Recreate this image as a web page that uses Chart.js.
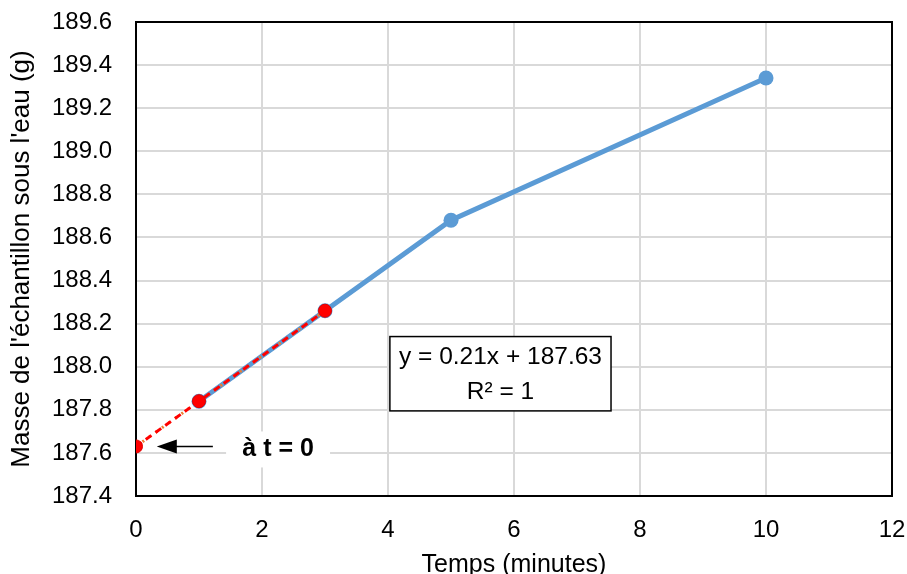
<!DOCTYPE html>
<html>
<head>
<meta charset="utf-8">
<script src="https://cdn.jsdelivr.net/npm/chart.js@4"></script>
<style>
  html, body { margin: 0; padding: 0; background: #fff; }
</style>
</head>
<body>
<canvas id="chart" width="907" height="574"></canvas>
<script>
// data
var mainX = [1, 3, 5, 10];
var mainY = [187.84, 188.26, 188.68, 189.34];

var fitX = [0, 1, 3];
var fitY = [187.63, 187.84, 188.26];

// linear trendline end points (y = 0.21x + 187.63)
var trendX = [0, 3];
var trendY = [187.63, 188.26];

var eqLines = ['y = 0.21x + 187.63', 'R\u00b2 = 1'];
var noteText = '\u00e0 t = 0';

var FONT = '"Liberation Sans", Arial, sans-serif';

function pts(xs, ys) {
    return xs.map(function (x, i) { return { x: x, y: ys[i] }; });
}

// frame, equation box and arrow note
var extras = {
    id: 'extras',
    beforeDatasetsDraw: function (chart) {
        var a = chart.chartArea, ctx = chart.ctx;
        ctx.save();
        ctx.strokeStyle = '#000';
        ctx.lineWidth = 2;
        ctx.strokeRect(a.left, a.top, a.right - a.left, a.bottom - a.top);
        ctx.restore();
    },
    afterDatasetsDraw: function (chart) {
        var ctx = chart.ctx, xs = chart.scales.x, ys = chart.scales.y;
        ctx.save();

        // equation box
        var bx1 = xs.getPixelForValue(4.03), bx2 = xs.getPixelForValue(7.54);
        var by1 = ys.getPixelForValue(188.14), by2 = ys.getPixelForValue(187.795);
        ctx.fillStyle = '#fff';
        ctx.fillRect(bx1, by1, bx2 - bx1, by2 - by1);
        ctx.strokeStyle = '#000';
        ctx.lineWidth = 1.5;
        ctx.strokeRect(bx1, by1, bx2 - bx1, by2 - by1);
        ctx.fillStyle = '#000';
        ctx.font = '24.5px ' + FONT;
        ctx.textAlign = 'center';
        ctx.textBaseline = 'middle';
        var cx = (bx1 + bx2) / 2;
        ctx.fillText(eqLines[0], cx, by1 + 21);
        ctx.fillText(eqLines[1], cx, by1 + 56);

        // note "à t = 0"
        var ny = ys.getPixelForValue(187.63) + 3;
        var nx1 = xs.getPixelForValue(1.43), nx2 = xs.getPixelForValue(3.08);
        ctx.fillStyle = '#fff';
        ctx.fillRect(nx1, ny - 18, nx2 - nx1, 36);
        ctx.fillStyle = '#000';
        ctx.font = 'bold 25px ' + FONT;
        ctx.fillText(noteText, (nx1 + nx2) / 2, ny);

        // arrow
        var ax1 = xs.getPixelForValue(1.22), ax2 = xs.getPixelForValue(0.33);
        var ay = ys.getPixelForValue(187.63);
        ctx.strokeStyle = '#000';
        ctx.lineWidth = 1.5;
        ctx.beginPath();
        ctx.moveTo(ax1, ay);
        ctx.lineTo(ax2 + 12, ay);
        ctx.stroke();
        ctx.beginPath();
        ctx.moveTo(ax2, ay);
        ctx.lineTo(ax2 + 20, ay - 7);
        ctx.lineTo(ax2 + 20, ay + 7);
        ctx.closePath();
        ctx.fillStyle = '#000';
        ctx.fill();

        ctx.restore();
    }
};

var ctx = document.getElementById('chart').getContext('2d');
var myChart = new Chart(ctx, {
    type: 'scatter',
    data: {
        datasets: [
            {
                label: 'Masse',
                data: pts(mainX, mainY),
                showLine: true,
                borderColor: '#5b9bd5',
                backgroundColor: '#5b9bd5',
                borderWidth: 5,
                pointRadius: 7.5,
                pointBorderWidth: 0,
                order: 3
            },
            {
                label: 'Points t=0',
                data: pts(fitX, fitY),
                showLine: true,
                borderColor: '#ff0000',
                backgroundColor: '#ff0000',
                borderWidth: 3,
                borderDash: [7, 5],
                pointRadius: 6.5,
                pointBorderWidth: 1,
                pointBorderColor: '#e00000',
                order: 1
            },
            {
                label: 'Tendance',
                data: pts(trendX, trendY),
                showLine: true,
                borderColor: '#ed7d31',
                borderWidth: 3,
                borderDash: [2, 6],
                pointRadius: 0,
                order: 2
            }
        ]
    },
    plugins: [extras],
    options: {
        responsive: false,
        animation: false,
        layout: { padding: { left: 6, top: 22, right: 15, bottom: 0 } },
        plugins: {
            legend: { display: false },
            tooltip: { enabled: false }
        },
        scales: {
            x: {
                type: 'linear',
                min: 0,
                max: 12,
                ticks: {
                    stepSize: 2,
                    color: '#000',
                    font: { family: FONT, size: 24 },
                    padding: 20
                },
                grid: { color: '#d9d9d9', lineWidth: 2, drawTicks: false },
                border: { display: false },
                title: {
                    display: true,
                    text: 'Temps (minutes)',
                    color: '#000',
                    font: { family: FONT, size: 25 },
                    padding: { top: 0, bottom: -6 }
                },
                afterFit: function (s) {
                    s.height = 78;
                    s.paddingLeft = 0;
                    s.paddingRight = 0;
                }
            },
            y: {
                min: 187.4,
                max: 189.6,
                ticks: {
                    stepSize: 0.2,
                    color: '#000',
                    font: { family: FONT, size: 24 },
                    padding: 24,
                    callback: function (v) { return Number(v).toFixed(1); }
                },
                grid: { color: '#d9d9d9', lineWidth: 2, drawTicks: false },
                border: { display: false },
                title: {
                    display: true,
                    text: "Masse de l'\u00e9chantillon sous l'eau (g)",
                    color: '#000',
                    font: { family: FONT, size: 26 },
                    padding: { top: 0, bottom: 2 }
                },
                afterFit: function (s) {
                    s.width = 130;
                    s.paddingTop = 0;
                    s.paddingBottom = 0;
                }
            }
        }
    }
});
</script>
</body>
</html>
